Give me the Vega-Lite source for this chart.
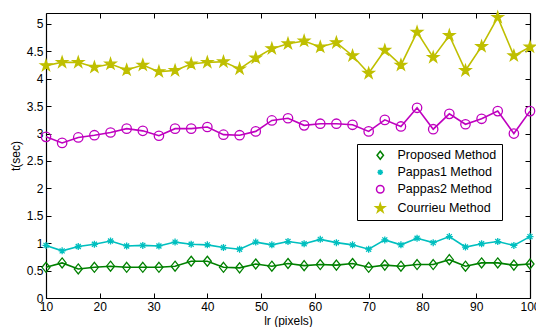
{
  "$schema": "https://vega.github.io/schema/vega-lite/v6.json",
  "width": 484,
  "height": 285,
  "autosize": {"type": "none"},
  "padding": {"left": 46, "top": 13, "right": 6, "bottom": 29},
  "background": "white",
  "config": {
    "font": "Liberation Sans",
    "view": {"stroke": null},
    "axis": {
      "labelFont": "Liberation Sans", "labelFontSize": 12, "labelColor": "black",
      "titleFont": "Liberation Sans", "titleFontSize": 12, "titleFontWeight": "normal", "titleColor": "black",
      "domainColor": "black", "domainWidth": 1.2, "tickColor": "black", "tickWidth": 1,
      "tickSize": -5, "labelPadding": 8, "grid": false, "labelFlush": false
    },
    "legend": {
      "title": null, "orient": "none", "legendX": 311, "legendY": 131,
      "strokeColor": "black", "fillColor": "white", "padding": 5, "rowPadding": 3,
      "labelFont": "Liberation Sans", "labelFontSize": 12.5, "labelColor": "black",
      "symbolSize": 64, "symbolOffset": 12, "labelOffset": 11
    }
  },
  "data": {"values": [
    {"lr": 10, "method": "Proposed Method", "t": 0.56},
    {"lr": 13, "method": "Proposed Method", "t": 0.64},
    {"lr": 16, "method": "Proposed Method", "t": 0.53},
    {"lr": 19, "method": "Proposed Method", "t": 0.56},
    {"lr": 22, "method": "Proposed Method", "t": 0.58},
    {"lr": 25, "method": "Proposed Method", "t": 0.56},
    {"lr": 28, "method": "Proposed Method", "t": 0.56},
    {"lr": 31, "method": "Proposed Method", "t": 0.56},
    {"lr": 34, "method": "Proposed Method", "t": 0.58},
    {"lr": 37, "method": "Proposed Method", "t": 0.67},
    {"lr": 40, "method": "Proposed Method", "t": 0.67},
    {"lr": 43, "method": "Proposed Method", "t": 0.56},
    {"lr": 46, "method": "Proposed Method", "t": 0.55},
    {"lr": 49, "method": "Proposed Method", "t": 0.62},
    {"lr": 52, "method": "Proposed Method", "t": 0.58},
    {"lr": 55, "method": "Proposed Method", "t": 0.63},
    {"lr": 58, "method": "Proposed Method", "t": 0.59},
    {"lr": 61, "method": "Proposed Method", "t": 0.61},
    {"lr": 64, "method": "Proposed Method", "t": 0.60},
    {"lr": 67, "method": "Proposed Method", "t": 0.63},
    {"lr": 70, "method": "Proposed Method", "t": 0.56},
    {"lr": 73, "method": "Proposed Method", "t": 0.60},
    {"lr": 76, "method": "Proposed Method", "t": 0.58},
    {"lr": 79, "method": "Proposed Method", "t": 0.61},
    {"lr": 82, "method": "Proposed Method", "t": 0.61},
    {"lr": 85, "method": "Proposed Method", "t": 0.70},
    {"lr": 88, "method": "Proposed Method", "t": 0.58},
    {"lr": 91, "method": "Proposed Method", "t": 0.64},
    {"lr": 94, "method": "Proposed Method", "t": 0.64},
    {"lr": 97, "method": "Proposed Method", "t": 0.60},
    {"lr": 100, "method": "Proposed Method", "t": 0.62},
    {"lr": 10, "method": "Pappas1 Method", "t": 0.96},
    {"lr": 13, "method": "Pappas1 Method", "t": 0.86},
    {"lr": 16, "method": "Pappas1 Method", "t": 0.94},
    {"lr": 19, "method": "Pappas1 Method", "t": 0.98},
    {"lr": 22, "method": "Pappas1 Method", "t": 1.04},
    {"lr": 25, "method": "Pappas1 Method", "t": 0.95},
    {"lr": 28, "method": "Pappas1 Method", "t": 0.96},
    {"lr": 31, "method": "Pappas1 Method", "t": 0.95},
    {"lr": 34, "method": "Pappas1 Method", "t": 1.02},
    {"lr": 37, "method": "Pappas1 Method", "t": 0.98},
    {"lr": 40, "method": "Pappas1 Method", "t": 0.97},
    {"lr": 43, "method": "Pappas1 Method", "t": 0.92},
    {"lr": 46, "method": "Pappas1 Method", "t": 0.89},
    {"lr": 49, "method": "Pappas1 Method", "t": 1.02},
    {"lr": 52, "method": "Pappas1 Method", "t": 0.97},
    {"lr": 55, "method": "Pappas1 Method", "t": 1.03},
    {"lr": 58, "method": "Pappas1 Method", "t": 0.99},
    {"lr": 61, "method": "Pappas1 Method", "t": 1.07},
    {"lr": 64, "method": "Pappas1 Method", "t": 1.01},
    {"lr": 67, "method": "Pappas1 Method", "t": 0.97},
    {"lr": 70, "method": "Pappas1 Method", "t": 0.89},
    {"lr": 73, "method": "Pappas1 Method", "t": 1.06},
    {"lr": 76, "method": "Pappas1 Method", "t": 0.97},
    {"lr": 79, "method": "Pappas1 Method", "t": 1.09},
    {"lr": 82, "method": "Pappas1 Method", "t": 1.01},
    {"lr": 85, "method": "Pappas1 Method", "t": 1.12},
    {"lr": 88, "method": "Pappas1 Method", "t": 0.93},
    {"lr": 91, "method": "Pappas1 Method", "t": 0.99},
    {"lr": 94, "method": "Pappas1 Method", "t": 1.03},
    {"lr": 97, "method": "Pappas1 Method", "t": 0.96},
    {"lr": 100, "method": "Pappas1 Method", "t": 1.12},
    {"lr": 10, "method": "Pappas2 Method", "t": 2.94},
    {"lr": 13, "method": "Pappas2 Method", "t": 2.83},
    {"lr": 16, "method": "Pappas2 Method", "t": 2.93},
    {"lr": 19, "method": "Pappas2 Method", "t": 2.97},
    {"lr": 22, "method": "Pappas2 Method", "t": 3.02},
    {"lr": 25, "method": "Pappas2 Method", "t": 3.09},
    {"lr": 28, "method": "Pappas2 Method", "t": 3.05},
    {"lr": 31, "method": "Pappas2 Method", "t": 2.96},
    {"lr": 34, "method": "Pappas2 Method", "t": 3.09},
    {"lr": 37, "method": "Pappas2 Method", "t": 3.09},
    {"lr": 40, "method": "Pappas2 Method", "t": 3.12},
    {"lr": 43, "method": "Pappas2 Method", "t": 2.98},
    {"lr": 46, "method": "Pappas2 Method", "t": 2.97},
    {"lr": 49, "method": "Pappas2 Method", "t": 3.04},
    {"lr": 52, "method": "Pappas2 Method", "t": 3.24},
    {"lr": 55, "method": "Pappas2 Method", "t": 3.28},
    {"lr": 58, "method": "Pappas2 Method", "t": 3.15},
    {"lr": 61, "method": "Pappas2 Method", "t": 3.18},
    {"lr": 64, "method": "Pappas2 Method", "t": 3.18},
    {"lr": 67, "method": "Pappas2 Method", "t": 3.16},
    {"lr": 70, "method": "Pappas2 Method", "t": 3.04},
    {"lr": 73, "method": "Pappas2 Method", "t": 3.25},
    {"lr": 76, "method": "Pappas2 Method", "t": 3.13},
    {"lr": 79, "method": "Pappas2 Method", "t": 3.47},
    {"lr": 82, "method": "Pappas2 Method", "t": 3.08},
    {"lr": 85, "method": "Pappas2 Method", "t": 3.36},
    {"lr": 88, "method": "Pappas2 Method", "t": 3.17},
    {"lr": 91, "method": "Pappas2 Method", "t": 3.27},
    {"lr": 94, "method": "Pappas2 Method", "t": 3.41},
    {"lr": 97, "method": "Pappas2 Method", "t": 3.00},
    {"lr": 100, "method": "Pappas2 Method", "t": 3.41},
    {"lr": 10, "method": "Courrieu Method", "t": 4.24},
    {"lr": 13, "method": "Courrieu Method", "t": 4.30},
    {"lr": 16, "method": "Courrieu Method", "t": 4.30},
    {"lr": 19, "method": "Courrieu Method", "t": 4.21},
    {"lr": 22, "method": "Courrieu Method", "t": 4.27},
    {"lr": 25, "method": "Courrieu Method", "t": 4.16},
    {"lr": 28, "method": "Courrieu Method", "t": 4.25},
    {"lr": 31, "method": "Courrieu Method", "t": 4.13},
    {"lr": 34, "method": "Courrieu Method", "t": 4.15},
    {"lr": 37, "method": "Courrieu Method", "t": 4.27},
    {"lr": 40, "method": "Courrieu Method", "t": 4.30},
    {"lr": 43, "method": "Courrieu Method", "t": 4.31},
    {"lr": 46, "method": "Courrieu Method", "t": 4.18},
    {"lr": 49, "method": "Courrieu Method", "t": 4.38},
    {"lr": 52, "method": "Courrieu Method", "t": 4.55},
    {"lr": 55, "method": "Courrieu Method", "t": 4.64},
    {"lr": 58, "method": "Courrieu Method", "t": 4.69},
    {"lr": 61, "method": "Courrieu Method", "t": 4.58},
    {"lr": 64, "method": "Courrieu Method", "t": 4.66},
    {"lr": 67, "method": "Courrieu Method", "t": 4.42},
    {"lr": 70, "method": "Courrieu Method", "t": 4.10},
    {"lr": 73, "method": "Courrieu Method", "t": 4.52},
    {"lr": 76, "method": "Courrieu Method", "t": 4.25},
    {"lr": 79, "method": "Courrieu Method", "t": 4.85},
    {"lr": 82, "method": "Courrieu Method", "t": 4.39},
    {"lr": 85, "method": "Courrieu Method", "t": 4.79},
    {"lr": 88, "method": "Courrieu Method", "t": 4.15},
    {"lr": 91, "method": "Courrieu Method", "t": 4.59},
    {"lr": 94, "method": "Courrieu Method", "t": 5.12},
    {"lr": 97, "method": "Courrieu Method", "t": 4.42},
    {"lr": 100, "method": "Courrieu Method", "t": 4.58}
  ]},
  "layer": [
    {
      "mark": {"type": "line", "strokeWidth": 1.6},
      "encoding": {
        "x": {"field": "lr", "type": "quantitative", "scale": {"domain": [10, 100], "nice": false, "zero": false},
              "axis": {"orient": "bottom", "title": "lr (pixels)", "values": [10, 20, 30, 40, 50, 60, 70, 80, 90, 100], "titlePadding": 3}},
        "y": {"field": "t", "type": "quantitative", "scale": {"domain": [0, 5.2], "nice": false},
              "axis": {"orient": "left", "title": "t(sec)", "format": ".1~f", "values": [0, 0.5, 1, 1.5, 2, 2.5, 3, 3.5, 4, 4.5, 5], "titlePadding": 4}},
        "stroke": {"field": "method", "type": "nominal",
                   "scale": {"domain": ["Proposed Method", "Pappas1 Method", "Pappas2 Method", "Courrieu Method"],
                             "range": ["#008000", "#00BFBF", "#BF00BF", "#BFBF00"]}}
      }
    },
    {
      "mark": {"type": "point", "size": 100, "strokeWidth": 1.3, "opacity": 1, "filled": false},
      "encoding": {
        "x": {"field": "lr", "type": "quantitative",
              "axis": {"orient": "top", "labels": false, "title": null, "values": [10, 20, 30, 40, 50, 60, 70, 80, 90, 100]}},
        "y": {"field": "t", "type": "quantitative",
              "axis": {"orient": "right", "labels": false, "title": null, "values": [0, 0.5, 1, 1.5, 2, 2.5, 3, 3.5, 4, 4.5, 5]}},
        "shape": {"field": "method", "type": "nominal",
                  "scale": {"domain": ["Proposed Method", "Pappas1 Method", "Pappas2 Method", "Courrieu Method"],
                            "range": ["M0,-1L0.8,0L0,1L-0.8,0Z",
                                      "M-0.7,0L0.7,0M0,-0.7L0,0.7M-0.5,-0.5L0.5,0.5M-0.5,0.5L0.5,-0.5",
                                      "M0.94,0A0.94,0.94,0,1,1,-0.94,0A0.94,0.94,0,1,1,0.94,0Z",
                                      "M0,-1.15L0.258,-0.355L1.094,-0.355L0.417,0.136L0.676,0.93L0,0.439L-0.676,0.93L-0.417,0.136L-1.094,-0.355L-0.258,-0.355Z"]}},
        "fill": {"field": "method", "type": "nominal",
                 "scale": {"domain": ["Proposed Method", "Pappas1 Method", "Pappas2 Method", "Courrieu Method"],
                           "range": ["transparent", "transparent", "transparent", "#BFBF00"]}},
        "stroke": {"field": "method", "type": "nominal",
                  "scale": {"domain": ["Proposed Method", "Pappas1 Method", "Pappas2 Method", "Courrieu Method"],
                            "range": ["#008000", "#00BFBF", "#BF00BF", "#BFBF00"]}}
      }
    }
  ],
  "resolve": {"axis": {"x": "independent", "y": "independent"}}
}
